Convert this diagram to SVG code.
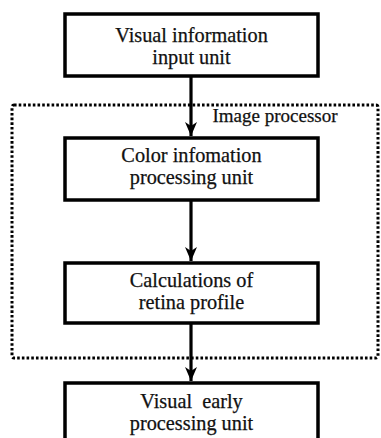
<svg xmlns="http://www.w3.org/2000/svg" width="381" height="438" viewBox="0 0 381 438">
  <style>
    .box { fill: #fff; stroke: #000; stroke-width: 3.5; }
    .lbl { font-family: "Liberation Serif", "Times New Roman", serif; font-size: 20.3px; fill: #111; stroke: #111; stroke-width: 0.25; text-anchor: middle; }
    .tag { font-size: 19px; }
    .grp { fill: none; stroke: #000; stroke-width: 3; stroke-dasharray: 2.6 2.1; }
    .wire { stroke: #000; stroke-width: 3.2; fill: none; }
  </style>
  <defs>
    <!-- barbed arrowhead, tip at the end of the line -->
    <marker id="head" viewBox="0 0 14 12" refX="14" refY="6" markerWidth="14" markerHeight="12" markerUnits="userSpaceOnUse" orient="auto">
      <path d="M0,0 L14,6 L0,12 L4,6 Z" fill="#000"/>
    </marker>
  </defs>
  <rect width="381" height="438" fill="#fff"/>

  <!-- image processor boundary -->
  <g id="image-processor">
    <rect class="grp" x="12" y="105" width="366" height="253" rx="2"/>
    <text class="lbl tag" x="275" y="122">Image processor</text>
  </g>

  <g id="connectors">
    <line class="wire" x1="191" y1="76" x2="191" y2="136" marker-end="url(#head)"/>
    <line class="wire" x1="191" y1="200" x2="191" y2="261" marker-end="url(#head)"/>
    <line class="wire" x1="191" y1="323" x2="191" y2="381" marker-end="url(#head)"/>
  </g>

  <g id="visual-input">
    <rect class="box" x="65" y="14" width="253" height="62"/>
    <text class="lbl" x="191.5" y="42">Visual information</text>
    <text class="lbl" x="191.5" y="64">input unit</text>
  </g>

  <g id="color-processing">
    <rect class="box" x="65" y="138" width="253" height="62"/>
    <text class="lbl" x="191.5" y="162">Color infomation</text>
    <text class="lbl" x="191.5" y="184">processing unit</text>
  </g>

  <g id="retina-profile">
    <rect class="box" x="65" y="263" width="253" height="60"/>
    <text class="lbl" x="191.5" y="287">Calculations of</text>
    <text class="lbl" x="191.5" y="309">retina profile</text>
  </g>

  <g id="visual-early">
    <rect class="box" x="65" y="383" width="253" height="62"/>
    <text class="lbl" x="191.5" y="408" xml:space="preserve">Visual  early</text>
    <text class="lbl" x="191.5" y="430">processing unit</text>
  </g>
</svg>
